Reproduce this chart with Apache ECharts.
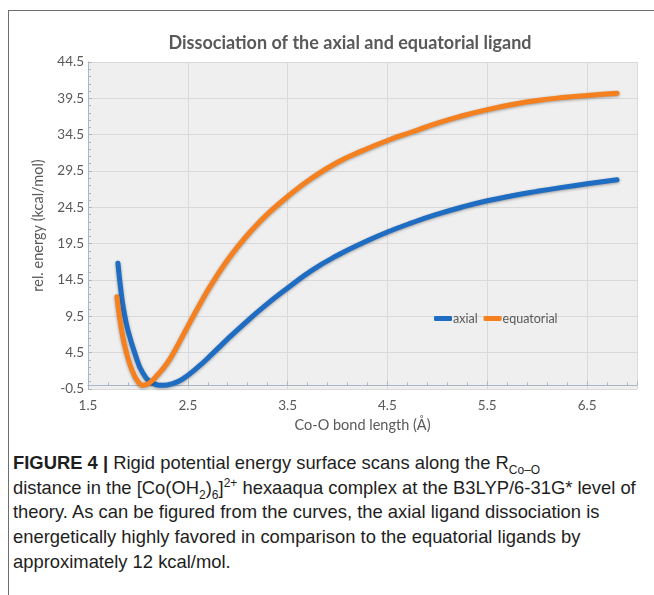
<!DOCTYPE html>
<html>
<head>
<meta charset="utf-8">
<script src="https://cdn.jsdelivr.net/npm/echarts@6/dist/echarts.min.js"></script>
<style>
  html, body { margin: 0; padding: 0; background: #fff; }
  #wrap { position: relative; width: 654px; height: 595px; overflow: hidden; }
  #frame { position: absolute; left: 8px; top: 10px; right: -2px; bottom: -2px;
           border-left: 1.5px solid #6e6e6e; border-top: 1.5px solid #6e6e6e; }
  #chart { position: absolute; left: 0; top: 0; width: 654px; height: 440px; }
  #caption { position: absolute; left: 13px; top: 451px; width: 640px;
             font-family: "Liberation Sans", Arial, sans-serif; font-size: 18.4px;
             line-height: 24.7px; color: #1e1e1e; white-space: nowrap; }
  #caption b { font-weight: bold; }
  #caption sub, #caption sup { font-size: 12px; line-height: 0; }
</style>
</head>
<body>
<div id="wrap">
  <div id="frame"></div>
  <div id="chart"></div>
  <div id="caption">
    <b>FIGURE 4 |</b> Rigid potential energy surface scans along the R<sub>Co–O</sub><br>
    distance in the [Co(OH<sub>2</sub>)<sub>6</sub>]<sup>2+</sup> hexaaqua complex at the B3LYP/6-31G* level of<br>
    theory. As can be figured from the curves, the axial ligand dissociation is<br>
    energetically highly favored in comparison to the equatorial ligands by<br>
    approximately 12 kcal/mol.
  </div>
</div>
<script>
// Co-O bond length (Å) / rel. energy (kcal/mol)
var axialX = [1.80, 1.83, 1.86, 1.90, 1.97, 2.05, 2.15, 2.25, 2.35, 2.45, 2.60, 2.75, 2.90, 3.05, 3.25,
  3.50, 3.75, 4.00, 4.25, 4.50, 4.75, 5.00, 5.25, 5.50, 5.75, 6.00, 6.25, 6.50, 6.80];
var axialY = [16.8, 13.0, 10.2, 7.6, 4.4, 1.7, 0.3, 0.0, 0.25, 0.9, 2.5, 4.4, 6.4, 8.3, 10.7,
  13.4, 15.9, 17.9, 19.6, 21.1, 22.4, 23.55, 24.55, 25.4, 26.1, 26.7, 27.25, 27.75, 28.3];

var equatX = [1.79, 1.82, 1.85, 1.88, 1.92, 1.96, 2.00, 2.05, 2.12, 2.20, 2.29, 2.37, 2.46, 2.55, 2.65,
  2.75, 2.87, 3.00, 3.15, 3.30, 3.50, 3.75, 4.00, 4.25, 4.50, 4.75, 5.00, 5.25, 5.50, 5.75, 6.00,
  6.25, 6.50, 6.80];
var equatY = [12.2, 9.0, 6.6, 4.8, 2.9, 1.5, 0.55, 0.0, 0.4, 1.5, 3.0, 4.8, 7.1, 9.4, 11.9,
  14.2, 16.7, 19.1, 21.5, 23.6, 26.0, 28.6, 30.7, 32.3, 33.7, 34.9, 36.1, 37.1, 37.95, 38.65, 39.2,
  39.6, 39.9, 40.2];

var seriesNames = ['axial', 'equatorial'];
var seriesColors = ['#1f6dc2', '#f5801f'];

function pairs(xs, ys) {
  var out = [];
  for (var i = 0; i < xs.length; i++) out.push([xs[i], ys[i]]);
  return out;
}

var chart = echarts.init(document.getElementById('chart'), null, { renderer: 'canvas' });
var font = 'Lato, "Open Sans", sans-serif';
var axisCol = '#a9b6c6';
var textCol = '#595959';

function lineSeries(name, data, color) {
  return {
    name: name,
    type: 'line',
    smooth: 0.5,
    showSymbol: false,
    symbol: 'none',
    data: data,
    lineStyle: {
      width: 5, color: color, cap: 'round', join: 'round',
      shadowColor: 'rgba(0,0,0,0.35)', shadowBlur: 3, shadowOffsetY: 1
    },
    itemStyle: { color: color }
  };
}

chart.setOption({
  animation: false,
  title: {
    text: 'Dissociation of the axial and equatorial ligand',
    left: 345, top: 29, textAlign: 'center',
    textStyle: { fontFamily: font, fontSize: 18, fontWeight: 'bold', color: textCol }
  },
  legend: {
    left: 429, top: 307,
    data: seriesNames,
    icon: 'roundRect', itemWidth: 18, itemHeight: 5, itemGap: 6,
    textStyle: { fontFamily: font, fontSize: 12.5, color: textCol, padding: [0, 0, 0, -4] }
  },
  grid: {
    left: 88, top: 62, right: 17, bottom: 51,
    show: true, backgroundColor: '#efefef', borderWidth: 0
  },
  xAxis: {
    type: 'value',
    min: 1.5, max: 7.0, interval: 1,
    name: 'Co-O bond length (Å)',
    nameLocation: 'middle', nameGap: 28,
    nameTextStyle: { fontFamily: font, fontSize: 14.5, color: textCol },
    axisLine: { show: true, lineStyle: { color: axisCol, width: 1 } },
    axisTick: { show: true, inside: true, length: 4, lineStyle: { color: axisCol } },
    minorTick: { show: true, splitNumber: 5, length: 3, lineStyle: { color: axisCol } },
    axisLabel: {
      fontFamily: font, fontSize: 13.5, color: textCol, margin: 10,
      showMaxLabel: false,
      formatter: function (v) { return v.toFixed(1); }
    },
    splitLine: { show: true, lineStyle: { color: '#d9d9d9', width: 1 } }
  },
  yAxis: {
    type: 'value',
    min: -0.5, max: 44.5, interval: 5,
    name: 'rel. energy (kcal/mol)',
    nameLocation: 'middle', nameGap: 42,
    nameTextStyle: { fontFamily: font, fontSize: 14.5, color: textCol },
    axisLine: { show: true, lineStyle: { color: axisCol, width: 1 } },
    axisTick: { show: true, inside: true, length: 4, lineStyle: { color: axisCol } },
    minorTick: { show: true, splitNumber: 5, length: 3, lineStyle: { color: axisCol } },
    axisLabel: {
      fontFamily: font, fontSize: 13.5, color: textCol, margin: 4,
      formatter: function (v) { return v.toFixed(1); }
    },
    splitLine: { show: true, lineStyle: { color: '#d9d9d9', width: 1 } }
  },
  series: [
    lineSeries(seriesNames[0], pairs(axialX, axialY), seriesColors[0]),
    lineSeries(seriesNames[1], pairs(equatX, equatY), seriesColors[1])
  ]
});
</script>
</body>
</html>
